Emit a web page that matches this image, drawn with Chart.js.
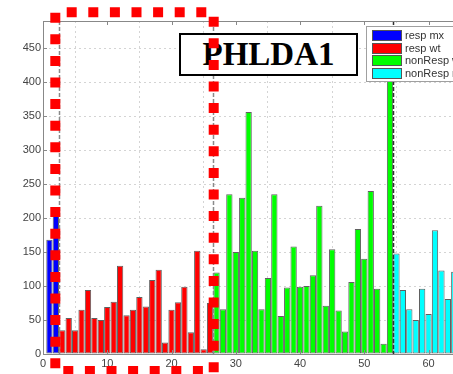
<!DOCTYPE html>
<html lang="en">
<head>
    <meta charset="UTF-8">
    <title>PHLDA1</title>
    <script src="https://cdn.jsdelivr.net/npm/chart.js@4/dist/chart.umd.min.js"></script>
    <style>
        html, body {
            margin: 0;
            padding: 0;
            background: white;
            overflow: hidden;
        }
        .wrap {
            position: relative;
            width: 453px;
            height: 374px;
            overflow: hidden;
        }
        .gene-box {
            position: absolute;
            left: 179px;
            top: 33px;
            width: 175px;
            height: 39px;
            border: 2px solid black;
            background: white;
            font-family: "Liberation Serif", "Times New Roman", serif;
            font-weight: bold;
            font-size: 33px;
            line-height: 39px;
            text-align: center;
        }
        .legend {
            position: absolute;
            left: 366px;
            top: 26px;
            width: 110px;
            height: 54px;
            border: 1px solid #a0a0a0;
            background: white;
            font-family: "Liberation Sans", Arial, sans-serif;
            font-size: 11px;
            color: #333;
        }
        .legend .row {
            position: absolute;
            left: 5px;
            height: 11px;
            line-height: 11px;
            white-space: nowrap;
        }
        .legend .swatch {
            display: inline-block;
            width: 28px;
            height: 9px;
            border: 1px solid #555;
            vertical-align: top;
            margin-right: 3px;
        }
        svg.marks {
            position: absolute;
            left: 0;
            top: 0;
        }
    </style>
</head>
<body>
    <div class="wrap">
        <canvas id="geneChart"></canvas>
        <div class="gene-box">PHLDA1</div>
        <div class="legend" id="legend"></div>
        <svg class="marks" width="453" height="374">
            <g stroke="#ff0000" stroke-width="10" stroke-dasharray="10 11.6" fill="none">
                <line x1="66.7" y1="12.3" x2="213.7" y2="12.3"/>
                <line x1="55.3" y1="12.7" x2="55.3" y2="376"/>
                <line x1="63.3" y1="371" x2="213" y2="371"/>
                <line x1="213.7" y1="16.7" x2="213.7" y2="376"/>
            </g>
        </svg>
    </div>

    <script>
        // values per group, bars placed one after another from x = 1
        const groupNames = ['resp mx', 'resp wt', 'nonResp wt', 'nonResp mx'];
        const groupColors = ['#0000ff', '#ff0000', '#00ff00', '#00ffff'];

        const respMx = [168, 203];
        const respWt = [35, 53, 35, 65, 94, 53, 50, 69, 77, 130, 57, 65, 84, 70, 109, 124, 17, 65, 76, 99, 32, 152, 7, 75];
        const nonRespWt = [120, 66, 235, 150, 230, 356, 152, 66, 112, 235, 56, 98, 158, 99, 100, 116, 218, 71, 154, 64, 33, 106, 184, 140, 240, 96, 15, 430];
        const nonRespMx = [148, 94, 66, 50, 96, 59, 182, 123, 81, 121];

        const groups = [respMx, respWt, nonRespWt, nonRespMx];

        const xTicks = [0, 10, 20, 30, 40, 50, 60];
        const yTicks = [0, 50, 100, 150, 200, 250, 300, 350, 400, 450];

        // build datasets and group boundaries
        let pos = 1;
        const boundaries = [];
        const datasets = groups.map((vals, g) => {
            const pts = vals.map((v, i) => ({ x: pos + i, y: v }));
            pos += vals.length;
            if (g < groups.length - 1) boundaries.push(pos - 0.5);
            return {
                label: groupNames[g],
                data: pts,
                backgroundColor: groupColors[g],
                borderColor: '#606060',
                borderWidth: 1,
                borderSkipped: false,
                grouped: false,
                barPercentage: 0.98,
                categoryPercentage: 1
            };
        });

        // legend
        const legend = document.getElementById('legend');
        groupNames.forEach((name, i) => {
            const row = document.createElement('div');
            row.className = 'row';
            row.style.top = (3 + i * 12.6) + 'px';
            row.innerHTML = '<span class="swatch" style="background:' + groupColors[i] + '"></span>' + name;
            legend.appendChild(row);
        });

        const extras = {
            id: 'extras',
            afterDatasetsDraw(chart) {
                const { ctx, chartArea, scales } = chart;
                ctx.save();
                ctx.lineWidth = 1.5;
                ctx.setLineDash([4, 2]);
                boundaries.forEach((b, i) => {
                    const px = Math.round(scales.x.getPixelForValue(b)) + 0.5;
                    ctx.strokeStyle = i === boundaries.length - 1 ? '#303030' : '#8a8a8a';
                    ctx.beginPath();
                    ctx.moveTo(px, chartArea.top);
                    ctx.lineTo(px, chartArea.bottom);
                    ctx.stroke();
                });
                ctx.setLineDash([]);
                ctx.lineWidth = 1;
                ctx.strokeStyle = '#888';
                ctx.beginPath();
                ctx.moveTo(chartArea.left, chartArea.top + 0.5);
                ctx.lineTo(chartArea.right, chartArea.top + 0.5);
                ctx.stroke();
                // small inner tick marks
                xTicks.forEach(t => {
                    const px = Math.round(scales.x.getPixelForValue(t)) + 0.5;
                    ctx.beginPath();
                    ctx.moveTo(px, chartArea.top);
                    ctx.lineTo(px, chartArea.top + 4);
                    ctx.moveTo(px, chartArea.bottom);
                    ctx.lineTo(px, chartArea.bottom - 4);
                    ctx.stroke();
                });
                yTicks.forEach(t => {
                    const py = Math.round(scales.y.getPixelForValue(t)) + 0.5;
                    ctx.beginPath();
                    ctx.moveTo(chartArea.left, py);
                    ctx.lineTo(chartArea.left + 4, py);
                    ctx.stroke();
                });
                ctx.restore();
            }
        };

        const tickFont = { family: '"Liberation Sans", Arial, sans-serif', size: 11 };

        new Chart(document.getElementById('geneChart'), {
            type: 'bar',
            data: { datasets: datasets },
            options: {
                responsive: true,
                maintainAspectRatio: false,
                animation: false,
                layout: { padding: { top: 21, right: 0, left: 0, bottom: 0 } },
                plugins: {
                    legend: { display: false },
                    tooltip: { enabled: false }
                },
                scales: {
                    x: {
                        type: 'linear',
                        offset: false,
                        min: 0,
                        max: 63.8,
                        afterFit(scale) { scale.height = 20; },
                        afterBuildTicks(scale) { scale.ticks = xTicks.map(v => ({ value: v })); },
                        ticks: { font: tickFont, color: '#444', padding: 3, includeBounds: false },
                        grid: { color: '#d4d4d4', drawTicks: false },
                        border: { color: '#888', dash: [2, 3] }
                    },
                    y: {
                        min: 0,
                        max: 490,
                        afterFit(scale) { scale.width = 43; },
                        afterBuildTicks(scale) { scale.ticks = yTicks.map(v => ({ value: v })); },
                        ticks: { font: tickFont, color: '#444', padding: 2, includeBounds: false },
                        grid: { color: '#d4d4d4', drawTicks: false },
                        border: { color: '#888', dash: [2, 3] }
                    }
                }
            },
            plugins: [extras]
        });
    </script>
</body>
</html>
